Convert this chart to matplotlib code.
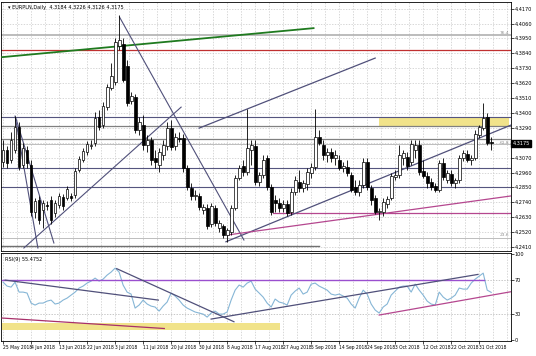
import matplotlib
matplotlib.use("Agg")
import matplotlib.pyplot as plt
import numpy as np

# OHLC per daily bar (bar 0 = 25 May 2018)
opens = [4.3037, 4.3126, 4.3052, 4.3126, 4.3296, 4.3015, 4.3126, 4.3015, 4.2668, 4.2757,
         4.2683, 4.2720, 4.2757, 4.2661, 4.2720, 4.2779, 4.2772, 4.2787, 4.2794, 4.2978,
         4.3052, 4.3111, 4.3156, 4.3178, 4.3370, 4.3311, 4.3443, 4.3584, 4.3628, 4.3894,
         4.3908, 4.3746, 4.3488, 4.3517, 4.3274, 4.3311, 4.3163, 4.3200, 4.3067, 4.3015,
         4.3089, 4.3156, 4.3288, 4.3156, 4.3215, 4.3215, 4.2993, 4.2846, 4.2787, 4.2787,
         4.2683, 4.2698, 4.2580, 4.2698, 4.2550, 4.2565, 4.2499, 4.2521, 4.2698, 4.2919,
         4.3008, 4.2964, 4.3126, 4.3156, 4.2890, 4.2942, 4.3067, 4.2853, 4.2757, 4.2735,
         4.2698, 4.2727, 4.2668, 4.2816, 4.2890, 4.2846, 4.2875, 4.2956, 4.3001, 4.3222,
         4.3163, 4.3089, 4.3111, 4.3067, 4.3052, 4.2993, 4.3001, 4.2942, 4.2853, 4.2816,
         4.2868, 4.3037, 4.2846, 4.2772, 4.2668, 4.2668, 4.2727, 4.2772, 4.2927, 4.2942,
         4.3067, 4.3074, 4.3037, 4.3126, 4.3163, 4.2971, 4.2934, 4.2890, 4.2860, 4.2831,
         4.3030, 4.2905, 4.2949, 4.2882, 4.2905, 4.3067, 4.3096, 4.3052, 4.3067, 4.3237,
         4.3288, 4.3370, 4.3184]
highs = [4.3200, 4.3156, 4.3259, 4.3377, 4.3333, 4.3178, 4.3156, 4.3052, 4.2772, 4.2787,
         4.2757, 4.2750, 4.2787, 4.2757, 4.2809, 4.2801, 4.2860, 4.2809, 4.2993, 4.3082,
         4.3141, 4.3192, 4.3200, 4.3406, 4.3421, 4.3480, 4.3613, 4.3768, 4.3953, 4.4122,
         4.3953, 4.3790, 4.3554, 4.3539, 4.3370, 4.3384, 4.3237, 4.3222, 4.3126, 4.3141,
         4.3200, 4.3333, 4.3347, 4.3252, 4.3259, 4.3244, 4.3015, 4.2882, 4.2831, 4.2809,
         4.2727, 4.2727, 4.2735, 4.2720, 4.2609, 4.2580, 4.2550, 4.2720, 4.2942, 4.3015,
         4.3052, 4.3429, 4.3200, 4.3200, 4.2964, 4.3089, 4.3089, 4.2875, 4.2794, 4.2772,
         4.2757, 4.2757, 4.2846, 4.2934, 4.2978, 4.2905, 4.2993, 4.3030, 4.3429, 4.3274,
         4.3200, 4.3141, 4.3141, 4.3126, 4.3089, 4.3037, 4.3052, 4.2964, 4.2905, 4.2905,
         4.3067, 4.3067, 4.2868, 4.2794, 4.2698, 4.2772, 4.2787, 4.2956, 4.2978, 4.3163,
         4.3126, 4.3111, 4.3200, 4.3200, 4.3200, 4.3052, 4.2964, 4.2919, 4.2882, 4.3052,
         4.3067, 4.2978, 4.2978, 4.2919, 4.3089, 4.3126, 4.3126, 4.3089, 4.3274, 4.3311,
         4.3473, 4.3399, 4.3226]
lows = [4.3001, 4.2993, 4.3030, 4.3104, 4.2978, 4.2993, 4.2993, 4.2639, 4.2624, 4.2580,
        4.2550, 4.2683, 4.2580, 4.2631, 4.2698, 4.2683, 4.2757, 4.2750, 4.2772, 4.2964,
        4.3037, 4.3089, 4.3133, 4.3156, 4.3274, 4.3288, 4.3421, 4.3569, 4.3606, 4.3864,
        4.3628, 4.3451, 4.3466, 4.3252, 4.3237, 4.3126, 4.3111, 4.3015, 4.2993, 4.2964,
        4.3052, 4.3126, 4.3126, 4.3126, 4.3185, 4.2964, 4.2831, 4.2757, 4.2757, 4.2683,
        4.2654, 4.2543, 4.2558, 4.2565, 4.2521, 4.2477, 4.2447, 4.2499, 4.2683, 4.2905,
        4.2934, 4.2942, 4.3015, 4.2868, 4.2860, 4.2919, 4.2831, 4.2646, 4.2668, 4.2668,
        4.2668, 4.2639, 4.2646, 4.2794, 4.2816, 4.2816, 4.2831, 4.2919, 4.2978, 4.3163,
        4.3052, 4.3037, 4.3037, 4.3015, 4.2978, 4.2964, 4.2934, 4.2816, 4.2794, 4.2787,
        4.2846, 4.2831, 4.2720, 4.2654, 4.2609, 4.2639, 4.2698, 4.2757, 4.2905, 4.2919,
        4.3015, 4.2978, 4.3015, 4.3067, 4.2942, 4.2919, 4.2846, 4.2831, 4.2816, 4.2816,
        4.2905, 4.2882, 4.2860, 4.2846, 4.2882, 4.3045, 4.3037, 4.3015, 4.3052, 4.3215,
        4.3274, 4.3163, 4.3126]
closes = [4.3126, 4.3030, 4.3200, 4.3296, 4.3001, 4.3141, 4.3030, 4.2668, 4.2750, 4.2609,
          4.2735, 4.2713, 4.2609, 4.2735, 4.2787, 4.2713, 4.2838, 4.2772, 4.2971, 4.3060,
          4.3119, 4.3170, 4.3163, 4.3362, 4.3296, 4.3451, 4.3591, 4.3672, 4.3923, 4.3938,
          4.3643, 4.3473, 4.3525, 4.3274, 4.3333, 4.3163, 4.3200, 4.3052, 4.3037, 4.3111,
          4.3163, 4.3288, 4.3148, 4.3222, 4.3207, 4.2993, 4.2853, 4.2787, 4.2794, 4.2705,
          4.2705, 4.2565, 4.2713, 4.2587, 4.2587, 4.2499, 4.2536, 4.2698, 4.2919, 4.2993,
          4.2964, 4.3141, 4.3163, 4.2890, 4.2942, 4.3052, 4.2853, 4.2668, 4.2735, 4.2698,
          4.2727, 4.2661, 4.2816, 4.2905, 4.2846, 4.2882, 4.2964, 4.3001, 4.3222, 4.3178,
          4.3089, 4.3111, 4.3067, 4.3089, 4.2993, 4.3008, 4.2956, 4.2831, 4.2816, 4.2868,
          4.3037, 4.2853, 4.2757, 4.2668, 4.2676, 4.2742, 4.2764, 4.2934, 4.2942, 4.3089,
          4.3104, 4.3008, 4.3170, 4.3163, 4.2964, 4.2934, 4.2882, 4.2853, 4.2831, 4.3030,
          4.2927, 4.2956, 4.2882, 4.2905, 4.3067, 4.3104, 4.3052, 4.3067, 4.3244, 4.3296,
          4.3362, 4.3178, 4.3175]

rsi = [67.4, 62.8, 61.6, 67.4, 55.8, 55.8, 54.7, 43.0, 40.7, 43.0,
       43.0, 45.3, 46.5, 41.9, 43.0, 46.5, 48.8, 52.3, 55.8, 60.5,
       62.8, 66.3, 68.6, 72.1, 68.6, 70.9, 75.6, 79.1, 83.7, 79.1,
       64.0, 55.8, 53.5, 37.2, 40.7, 46.5, 41.9, 39.5, 38.4, 33.7,
       39.5, 44.2, 54.7, 51.2, 46.5, 40.7, 37.2, 34.9, 32.6, 31.4,
       30.2, 26.7, 31.4, 33.7, 30.2, 30.2, 32.6, 46.5, 58.1, 64.0,
       61.6, 66.3, 68.6, 59.3, 54.7, 50.0, 43.0, 38.4, 47.7, 44.2,
       43.0, 40.7, 52.3, 57.0, 60.5, 53.5, 55.8, 65.1, 66.3, 62.8,
       60.5, 58.1, 53.5, 52.3, 53.5, 51.2, 48.8, 41.9, 37.2, 48.8,
       58.1, 53.5, 41.9, 34.9, 31.4, 38.4, 41.9, 52.3, 57.0, 61.6,
       62.8, 62.8, 55.8, 65.1, 58.1, 52.3, 45.3, 41.9, 40.7, 55.8,
       50.0, 46.5, 48.8, 52.3, 60.5, 59.3, 59.3, 66.3, 70.9, 74.4,
       77.9, 58.1, 55.4752]

date_labels = ["25 May 2018", "4 Jun 2018", "13 Jun 2018", "22 Jun 2018", "3 Jul 2018",
               "11 Jul 2018", "20 Jul 2018", "30 Jul 2018", "8 Aug 2018", "17 Aug 2018",
               "27 Aug 2018", "5 Sep 2018", "14 Sep 2018", "24 Sep 2018", "3 Oct 2018",
               "12 Oct 2018", "22 Oct 2018", "31 Oct 2018"]
date_bars = [0, 7, 14, 21, 28, 35, 42, 49, 56, 63, 70, 77, 84, 91, 98, 105, 112, 119]
price_ticks = [4.4170, 4.4060, 4.3950, 4.3840, 4.3730, 4.3620, 4.3510, 4.3400, 4.3290,
               4.3070, 4.2960, 4.2850, 4.2740, 4.2630, 4.2520, 4.2410]
grid_prices = price_ticks + [4.3180]
rsi_ticks = [100, 70, 30, 0]

# drawn objects (bar index, price)
green_line = [(-0.25, 4.3812), (77.6, 4.4026)]
red_level = 4.3868
fib_top = 4.3978
peak_down_line = [(29.1, 4.4108), (60.2, 4.2462)]
june_up_line = [(5.2, 4.2403), (44.5, 4.3443)]
early_down_a = [(3.0, 4.3377), (8.7, 4.2403)]
early_down_b = [(3.2, 4.3362), (12.7, 4.2440)]
channel_top = [(49.0, 4.3288), (93.0, 4.3805)]
aug_up_line = [(55.7, 4.2449), (126.9, 4.3310)]
pink_line = [(56.1, 4.2499), (126.9, 4.2787)]
pink_level = (67.4, 4.2663)
blue_levels = [4.3372, 4.2995, 4.2855]
gray_levels = [4.3303, 4.3205]
light_levels = [4.3170, 4.2474]
bottom_level = (79.0, 4.2421)
zone = (94.0, 126.5, 4.3303, 4.3372)

rsi_purple = [(-0.25, 70.0), (120.2, 70.0)]
rsi_line_a = [(0.5, 69.8), (38.8, 46.5)]
rsi_line_b = [(28.4, 83.1), (57.7, 21.3)]
rsi_line_c = [(52.0, 24.4), (118.7, 76.4)]
rsi_red = [(-0.25, 25.6), (40.3, 13.4)]
rsi_pink = [(94.0, 29.1), (126.9, 56.2)]
rsi_zone = (-0.25, 69.2, 11.6, 19.8)

FS = 3.6
XMIN, XMAX = -0.5, 126.9

fig = plt.figure(figsize=(5.36, 3.56), dpi=100)
ax = fig.add_axes([0.002, 0.295, 0.951, 0.699])
ax2 = fig.add_axes([0.002, 0.042, 0.951, 0.247])

x = np.arange(len(closes))
o = np.array(opens)
c = np.array(closes)

# grid
vgrid = np.arange(0, XMAX, 3.5)
for a in (ax, ax2):
    for v in vgrid:
        a.axvline(v, color="#c8c8c8", lw=0.5, ls=(0, (2, 2)), zorder=0)
for p in grid_prices:
    ax.axhline(p, color="#c8c8c8", lw=0.5, ls=(0, (2, 2)), zorder=0)

# horizontal levels
ax.axhline(fib_top, color="#b0b0b0", lw=1.2, zorder=1)
ax.axhline(red_level, color="#c03030", lw=0.9, zorder=2)
for p in blue_levels:
    ax.axhline(p, color="#55557f", lw=0.8, zorder=2)
for p in gray_levels:
    ax.axhline(p, color="#808080", lw=0.9, zorder=2)
for p in light_levels:
    ax.axhline(p, color="#bdbdbd", lw=0.7, zorder=2)
ax.plot([XMIN, bottom_level[0]], [bottom_level[1]] * 2, color="#707070", lw=1.0, zorder=2)
ax.plot([pink_level[0], XMAX], [pink_level[1]] * 2, color="#b5478f", lw=0.9, zorder=2)
ax.fill_between([zone[0], zone[1]], zone[2], zone[3], color="#f1e38a", lw=0, zorder=1)

# trend lines
for seg, col, lw in [(green_line, "#1f7a1f", 1.3), (peak_down_line, "#50507a", 0.8),
                     (june_up_line, "#50507a", 0.8), (early_down_a, "#50507a", 0.8),
                     (early_down_b, "#50507a", 0.8), (channel_top, "#50507a", 0.9),
                     (aug_up_line, "#50507a", 0.9), (pink_line, "#b5478f", 0.9)]:
    ax.plot([seg[0][0], seg[1][0]], [seg[0][1], seg[1][1]], color=col, lw=lw, zorder=3)

# candles
ax.vlines(x, lows, highs, color="black", lw=0.6, zorder=4)
up = c >= o
ax.bar(x[up], (c - o)[up], bottom=o[up], width=0.7, color="white",
       edgecolor="black", lw=0.5, zorder=5)
ax.bar(x[~up], (o - c)[~up], bottom=c[~up], width=0.7, color="black",
       edgecolor="black", lw=0.5, zorder=5)

ax.set_xlim(XMIN, XMAX)
ax.set_ylim(4.2381, 4.4218)
ax.yaxis.tick_right()
ax.set_yticks(price_ticks)
ax.set_yticklabels([f"{p:.4f}" for p in price_ticks])
ax.set_xticks([])
ax.tick_params(axis="y", labelsize=FS, length=2, width=0.5, pad=1, colors="black")

ax.text(1.2, 4.4175, "\u25be EURPLN,Daily  4.3184 4.3226 4.3126 4.3175",
        fontsize=FS, va="center", ha="left")
for lbl, p in [("76.4", 4.3990), ("61.8", 4.3180), ("23.6", 4.2496)]:
    ax.text(126.5, p, lbl, fontsize=3.2, color="#909090", ha="right", va="center")
ax.text(1.0035, closes[-1], f"{closes[-1]:.4f}", transform=ax.get_yaxis_transform(),
        fontsize=FS, color="white", va="center", ha="left",
        bbox=dict(boxstyle="square,pad=0.25", fc="black", ec="black"), clip_on=False)

# RSI panel
ax2.fill_between([rsi_zone[0], rsi_zone[1]], rsi_zone[2], rsi_zone[3],
                 color="#f1e38a", lw=0, zorder=1)
for lv in (70, 30):
    ax2.axhline(lv, color="#b0b0b0", lw=0.5, ls=(0, (2, 2)), zorder=1)
ax2.plot(x, rsi, color="#86b6d6", lw=0.8, zorder=3)
for seg, col, lw in [(rsi_purple, "#9a4fcf", 1.0), (rsi_line_a, "#50507a", 0.9),
                     (rsi_line_b, "#50507a", 0.9), (rsi_line_c, "#50507a", 0.9),
                     (rsi_red, "#a8306a", 0.9), (rsi_pink, "#b5478f", 0.9)]:
    ax2.plot([seg[0][0], seg[1][0]], [seg[0][1], seg[1][1]], color=col, lw=lw, zorder=4)

ax2.set_xlim(XMIN, XMAX)
ax2.set_ylim(-1.2, 101.2)
ax2.yaxis.tick_right()
ax2.set_yticks(rsi_ticks)
ax2.set_yticklabels([str(t) for t in rsi_ticks])
ax2.tick_params(axis="y", labelsize=FS, length=2, width=0.5, pad=1)
ax2.set_xticks(date_bars)
ax2.set_xticklabels(date_labels, ha="left")
ax2.tick_params(axis="x", labelsize=3.25, length=2, width=0.5, pad=1)
ax2.text(0.5, 97, f"RSI(9) {rsi[-1]:.4f}", fontsize=FS, va="top", ha="left")

for a in (ax, ax2):
    for s in a.spines.values():
        s.set_linewidth(0.6)
        s.set_color("black")

fig.savefig("out.png", dpi=100, facecolor="white")
